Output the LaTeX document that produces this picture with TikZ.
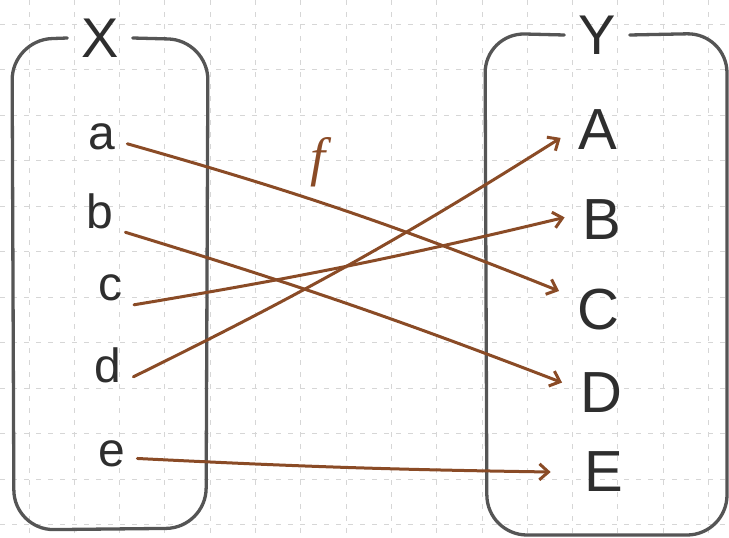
\documentclass[tikz,border=0pt]{standalone}
\usepackage{fontspec}
\setmainfont{Liberation Sans}
\newfontfamily\mapfont{Liberation Serif}
\usetikzlibrary{arrows.meta}
\definecolor{FrameGray}{HTML}{555555}
\definecolor{InkBrown}{HTML}{8A4B26}
\definecolor{GridGray}{HTML}{D6D6D6}
\definecolor{TextGray}{HTML}{2E2E2E}

\begin{document}
\begin{tikzpicture}[x=1pt,y=-1pt,
  frame/.style={draw=FrameGray, line width=3.3pt, rounded corners=40pt, line cap=round},
  setname/.style={text=TextGray, font=\fontsize{56}{60}\selectfont, inner sep=0pt, outer sep=14pt},
  elem/.style={text=TextGray, font=\fontsize{48}{52}\selectfont, inner sep=0pt, outer sep=12pt},
  img/.style={text=TextGray, font=\fontsize{58}{62}\selectfont, inner sep=0pt, outer sep=18pt},
  arr/.style={-{Straight Barb[length=9pt,width=16pt]}, InkBrown, line width=3pt, line cap=round},
  gridline/.style={GridGray, line width=1pt, dash pattern=on 5pt off 7pt}
]
\useasboundingbox (0,0) rectangle (729,538);
% dotted paper
\foreach \gx in {0,...,15}
  \draw[gridline] (29+45.3*\gx,0) -- (29+45.3*\gx,538);
\foreach \gy in {0,...,11}
  \draw[gridline] (0,24+45.5*\gy) -- (729,24+45.5*\gy);

% domain X
\node[setname] (X) at (100,38) {X};
\node[elem] (a) at (102,137) {a};
\node[elem] (b) at (100,211) {b};
\node[elem] (c) at (110,288) {c};
\node[elem] (d) at (108,365) {d};
\node[elem] (e) at (112,454) {e};
\draw[frame] (X.east) -- (208,40) -- (206,528) -- (14,530) -- (12,40) -- (X.west);

% codomain Y
\node[setname] (Y) at (597,35) {Y};
\node[img] (A) at (598,130) {A};
\node[img] (B) at (602,220) {B};
\node[img] (C) at (598,310) {C};
\node[img] (D) at (601,393) {D};
\node[img] (E) at (604,472) {E};
\draw[frame] (Y.east) -- (727,33) -- (727,535) -- (487,535) -- (485,33) -- (Y.west);

% the map
\node[text=InkBrown, font=\fontsize{54}{58}\mapfont\itshape] (f) at (318,162) {f};
\draw[arr] (a.-15) to[bend left=3] (C.154);
\draw[arr] (b.-40) to[bend left=2] (D.165);
\draw[arr] (c.-35) to[bend right=2] (B.176);
\draw[arr] (d.-25) to[bend right=3] (A.192);
\draw[arr] (e.-10) to[bend right=1] ([xshift=-16pt]E.west);
\end{tikzpicture}
\end{document}
